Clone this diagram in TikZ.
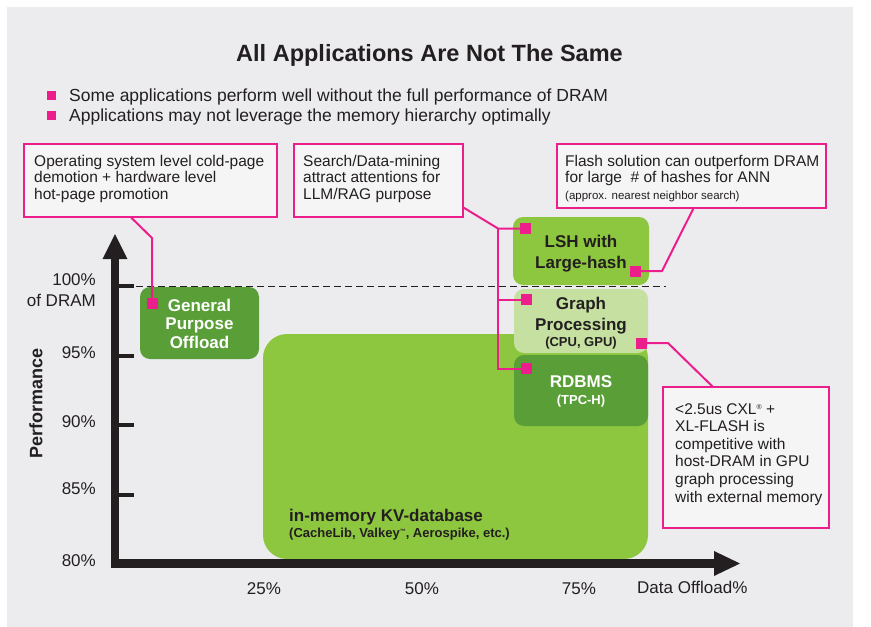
\documentclass[tikz,border=0pt]{standalone}
\usepackage{fontspec}
\setmainfont{Liberation Sans}
\definecolor{bgc}{RGB}{236,236,239}
\definecolor{callfill}{RGB}{245,245,246}
\definecolor{mag}{RGB}{236,30,140}
\definecolor{dkgreen}{RGB}{90,158,56}
\definecolor{lime}{RGB}{141,198,63}
\definecolor{ltgreen}{RGB}{197,224,160}
\definecolor{txt}{RGB}{35,31,32}
\newcommand{\fs}[2]{\fontsize{#1}{#2}\selectfont}
\tikzset{
  box/.style={draw=none, inner sep=0pt, rounded corners=10pt},
  callout/.style={draw=mag, line width=1.4pt, fill=callfill, inner sep=0pt},
  lbl/.style={inner sep=0pt, text=txt, anchor=base west, font=\fs{15.5}{18}},
  blbl/.style={inner sep=0pt, anchor=base, font=\bfseries\fs{17}{20}},
  slbl/.style={inner sep=0pt, anchor=base, font=\bfseries\fs{13}{15}},
  ax/.style={inner sep=0pt, text=txt, font=\fs{17}{20}},
  pin/.style={fill=mag, draw=none, minimum size=11pt, inner sep=0pt},
  conn/.style={draw=mag, line width=2pt},
  bullet/.style={fill=mag, draw=none, minimum size=9pt, inner sep=0pt},
}
\begin{document}
\begin{tikzpicture}[x=1pt, y=-1pt]
\useasboundingbox (0,0) rectangle (871,627);
\fill[bgc] (7,7) rectangle (853,627);

% title and bullets
\node[inner sep=0pt, anchor=base, text=txt, font=\bfseries\fs{23.5}{28}] (title) at (429.5,61) {All Applications Are Not The Same};
\node[bullet] (b1) at (51.5,95) {};
\node[bullet] (b2) at (51.5,115) {};
\node[inner sep=0pt, anchor=base west, text=txt, font=\fs{17.5}{20}] (bt1) at (69,101) {Some applications perform well without the full performance of DRAM};
\node[inner sep=0pt, anchor=base west, text=txt, font=\fs{17.5}{20}] (bt2) at (69,121) {Applications may not leverage the memory hierarchy optimally};

% boxes
\node[box, fill=lime, rounded corners=24pt, minimum width=385pt, minimum height=225pt] (kv) at (455.5,446.5) {};
\node[box, fill=dkgreen, minimum width=119pt, minimum height=72pt] (gpo) at (199.5,323) {};
\node[box, fill=lime, minimum width=136pt, minimum height=68pt] (lsh) at (581,251) {};
\node[box, fill=ltgreen, minimum width=134pt, minimum height=64pt] (gr) at (581,321) {};
\node[box, fill=dkgreen, minimum width=134pt, minimum height=71pt] (rd) at (581,390.5) {};

% box texts
\node[blbl, text=white] (gpo1) at (199.5,311) {General};
\node[blbl, text=white] (gpo2) at (199.5,329.5) {Purpose};
\node[blbl, text=white] (gpo3) at (199.5,348) {Offload};
\node[blbl, text=txt] (lsh1) at (581,247) {LSH with};
\node[blbl, text=txt] (lsh2) at (581,268) {Large-hash};
\node[blbl, text=txt] (gr1) at (581,309) {Graph};
\node[blbl, text=txt] (gr2) at (581,330) {Processing};
\node[slbl, text=txt] (gr3) at (581,346) {(CPU, GPU)};
\node[blbl, text=white] (rd1) at (581,387) {RDBMS};
\node[slbl, text=white] (rd2) at (581,404) {(TPC-H)};
\node[blbl, text=txt, anchor=base west] (kv1) at (289,521) {in-memory KV-database};
\node[slbl, text=txt, anchor=base west] (kv2) at (289,537) {(CacheLib, Valkey\raisebox{4pt}{\fs{6}{6}™}, Aerospike, etc.)};

% axes
\foreach \yy in {286,355.5,425,494.5} \draw[txt, line width=4pt] (117,\yy) -- (134,\yy);
\draw[txt, line width=1.8pt, dash pattern=on 7pt off 4pt] (136,286.5) -- (666,286.5);
\draw[txt, line width=8pt] (115,568) -- (115,257);
\fill[txt] (102.5,259) -- (127.5,259) -- (115,234) -- cycle;
\draw[txt, line width=9pt] (119,563.5) -- (716,563.5);
\fill[txt] (714,551) -- (714,576) -- (740,563.5) -- cycle;

\node[ax, anchor=base east] (y100) at (96,285) {100\%};
\node[ax, anchor=base east] (ydram) at (96,306) {of DRAM};
\node[ax, anchor=base east] (y95) at (96,358) {95\%};
\node[ax, anchor=base east] (y90) at (96,427) {90\%};
\node[ax, anchor=base east] (y85) at (96,494) {85\%};
\node[ax, anchor=base east] (y80) at (96,566) {80\%};
\node[ax, anchor=base] (x25) at (264,594) {25\%};
\node[ax, anchor=base] (x50) at (422,594) {50\%};
\node[ax, anchor=base] (x75) at (579,594) {75\%};
\node[ax, anchor=base west] (xlab) at (637,593) {Data Offload\%};
\node[inner sep=0pt, text=txt, rotate=90, font=\bfseries\fs{18}{20}] (ylab) at (36,403) {Performance};

% callouts
\node[callout, minimum width=253pt, minimum height=73pt] (c1) at (150.5,180.5) {};
\node[callout, minimum width=169pt, minimum height=73pt] (c2) at (378.5,180.5) {};
\node[callout, minimum width=269pt, minimum height=64pt] (c3) at (691.5,176) {};
\node[callout, minimum width=166pt, minimum height=141pt] (c4) at (746,457.5) {};

\node[lbl] (c1a) at (34,166) {Operating system level cold-page};
\node[lbl] (c1b) at (34,182.5) {demotion + hardware level};
\node[lbl] (c1c) at (34,199) {hot-page promotion};
\node[lbl] (c2a) at (303,166) {Search/Data-mining};
\node[lbl] (c2b) at (303,182.5) {attract attentions for};
\node[lbl] (c2c) at (303,199) {LLM/RAG purpose};
\node[lbl] (c3a) at (565,166) {Flash solution can outperform DRAM};
\node[lbl] (c3b) at (565,182.5) {for large\ \ \# of hashes for ANN};
\node[lbl, font=\fs{11.5}{13}] (c3c) at (565,199) {(approx. nearest neighbor search)};
\node[lbl] (c4a) at (675,414) {<2.5us CXL\raisebox{5pt}{\fs{7}{7}®} +};
\node[lbl] (c4b) at (675,431.6) {XL-FLASH is};
\node[lbl] (c4c) at (675,449.2) {competitive with};
\node[lbl] (c4d) at (675,466.8) {host-DRAM in GPU};
\node[lbl] (c4e) at (675,484.4) {graph processing};
\node[lbl] (c4f) at (675,502) {with external memory};

% connectors
\coordinate (k1) at (152,238);
\coordinate (j1) at (498,228.5);
\coordinate (j2) at (498,299.5);
\coordinate (j3) at (498,368.5);
\coordinate (k3) at (662,271);
\coordinate (k4) at (668,343);
\node[pin] (pg) at (152,303) {};
\node[pin] (pl) at (525.5,228.5) {};
\node[pin] (pgr) at (526,299.5) {};
\node[pin] (prd) at (526,368.5) {};
\node[pin] (pl2) at (635.5,271) {};
\node[pin] (pgr2) at (641,343) {};

\draw[conn] ([xshift=108pt]c1.south west) -- (k1) -- (pg.center);
\draw[conn] ([yshift=10pt]c2.south east) -- (j1) -- (pl.center);
\draw[conn] (j1) -- (j3) -- (prd.center);
\draw[conn] (j2) -- (pgr.center);
\draw[conn] ([xshift=137pt]c3.south west) -- (k3) -- (pl2.center);
\draw[conn] (pgr2.center) -- (k4) -- ([xshift=50pt]c4.north west);
\foreach \p in {pg,pl,pgr,prd,pl2,pgr2} \node[pin] at (\p) {};
\end{tikzpicture}
\end{document}
